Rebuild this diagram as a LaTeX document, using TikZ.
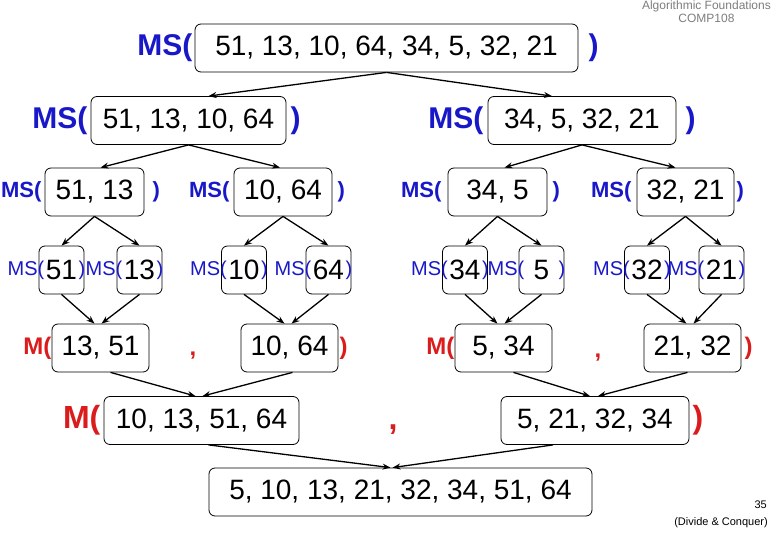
\documentclass[tikz,border=0pt]{standalone}
\usepackage{fontspec}
\setmainfont{Liberation Sans}
\usetikzlibrary{arrows.meta,positioning}
\definecolor{msBlue}{RGB}{24,24,200}
\definecolor{mRed}{RGB}{218,28,28}
\definecolor{hdGray}{RGB}{125,125,125}
\tikzset{
    numbox/.style={draw, rounded corners=6pt, line width=0.8pt, minimum height=48pt, inner sep=0pt,
        font=\fontsize{28}{30}\selectfont},
    tinybox/.style={numbox, minimum width=45pt},
    pairbox/.style={numbox, minimum width=97pt},
    msbig/.style={text=msBlue, inner sep=0pt, font=\bfseries\fontsize{30}{32}\selectfont},
    msmid/.style={text=msBlue, inner sep=0pt, font=\bfseries\fontsize{22}{24}\selectfont},
    mssmall/.style={text=msBlue, inner sep=0pt, font=\fontsize{20}{22}\selectfont},
    mmid/.style={text=mRed, inner sep=0pt, font=\bfseries\fontsize{24}{26}\selectfont},
    mbig/.style={text=mRed, inner sep=0pt, font=\bfseries\fontsize{32}{34}\selectfont},
    arr/.style={-{Stealth[length=8pt,width=6pt]}, line width=1.3pt}
}
\begin{document}
\begin{tikzpicture}[x=1pt,y=-1pt]
    \useasboundingbox (0,0) rectangle (780,540);
    \node[anchor=north east, align=center, inner sep=0pt, text=hdGray, font=\fontsize{12}{12.5}\selectfont]
        (hdr) at (771,1) {Algorithmic Foundations\\COMP108};

    \node[numbox, minimum width=383pt] (t) at (386.5,48) {51, 13, 10, 64, 34, 5, 32, 21};
    \node[msbig, anchor=east] (t-l) at ([xshift=-2pt]t.west) {MS(};
    \node[msbig, anchor=west] (t-r) at ([xshift=10pt]t.east) {)};

    \node[numbox, minimum width=195pt] (h1) at (188.5,120.5) {51, 13, 10, 64};
    \node[msbig, anchor=east] (h1-l) at ([xshift=-3pt]h1.west) {MS(};
    \node[msbig, anchor=west] (h1-r) at ([xshift=4pt]h1.east) {)};
    \node[numbox, minimum width=188pt] (h2) at (582,120.5) {34, 5, 32, 21};
    \node[msbig, anchor=east] (h2-l) at ([xshift=-4pt]h2.west) {MS(};
    \node[msbig, anchor=west] (h2-r) at ([xshift=9pt]h2.east) {)};

    \node[numbox, minimum width=99pt] (q1) at (94.5,192) {51, 13};
    \node[msmid, anchor=east] (q1-l) at ([xshift=-3pt]q1.west) {MS(};
    \node[msmid, anchor=west] (q1-r) at ([xshift=8pt]q1.east) {)};
    \node[numbox, minimum width=98pt] (q2) at (283,192) {10, 64};
    \node[msmid, anchor=east] (q2-l) at ([xshift=-4pt]q2.west) {MS(};
    \node[msmid, anchor=west] (q2-r) at ([xshift=5pt]q2.east) {)};
    \node[numbox, minimum width=99pt] (q3) at (497.5,192) {34, 5};
    \node[msmid, anchor=east] (q3-l) at ([xshift=-6pt]q3.west) {MS(};
    \node[msmid, anchor=west] (q3-r) at ([xshift=5pt]q3.east) {)};
    \node[numbox, minimum width=97pt] (q4) at (685.5,192) {32, 21};
    \node[msmid, anchor=east] (q4-l) at ([xshift=-5pt]q4.west) {MS(};
    \node[msmid, anchor=west] (q4-r) at ([xshift=2pt]q4.east) {)};

    \node[tinybox] (e1) at (61.5,270) {51};
    \node[tinybox] (e2) at (139.5,270) {13};
    \node[tinybox] (e3) at (244,270) {10};
    \node[tinybox] (e4) at (328.5,270) {64};
    \node[tinybox] (e5) at (465,270) {34};
    \node[tinybox] (e6) at (541.5,270) {5};
    \node[tinybox] (e7) at (647,270) {32};
    \node[tinybox] (e8) at (721.5,270) {21};
    \foreach \e in {e1,e2,e3,e4,e5,e6,e7,e8} {
        \node[mssmall, anchor=east] (\e-l) at ([xshift=6pt]\e.west) {MS(};
        \node[mssmall, anchor=west] (\e-r) at ([xshift=-6pt]\e.east) {)};
    }

    \node[pairbox] (m1) at (100.5,348) {13, 51};
    \node[mmid, anchor=east] (m1-l) at (m1.west) {M(};
    \node[pairbox] (m2) at (289.5,348) {10, 64};
    \node[mmid, anchor=west] (m2-r) at ([xshift=1pt]m2.east) {)};
    \node[mmid] (c1) at (193,356) {,};
    \node[pairbox] (m3) at (503.5,348) {5, 34};
    \node[mmid, anchor=east] (m3-l) at (m3.west) {M(};
    \node[pairbox] (m4) at (692.5,348) {21, 32};
    \node[mmid, anchor=west] (m4-r) at ([xshift=3pt]m4.east) {)};
    \node[mmid] (c2) at (598,358) {,};

    \node[numbox, minimum width=195pt] (mh1) at (201.5,420.5) {10, 13, 51, 64};
    \node[mbig, anchor=east] (mh1-l) at ([xshift=-3pt]mh1.west) {M(};
    \node[numbox, minimum width=188pt] (mh2) at (595,420.5) {5, 21, 32, 34};
    \node[mbig, anchor=west] (mh2-r) at ([xshift=3pt]mh2.east) {)};
    \node[mbig] (c3) at (393,430) {,};

    \node[numbox, minimum width=383pt] (res) at (400.5,492) {5, 10, 13, 21, 32, 34, 51, 64};

    \node[anchor=east, inner sep=0pt, font=\fontsize{11}{11}\selectfont] (pg) at (767,505) {35};
    \node[anchor=east, inner sep=0pt, font=\fontsize{11}{11}\selectfont] (topic) at (768,523) {(Divide \& Conquer)};

    \draw[arr] (t.south) -- ([xshift=20pt]h1.north);
    \draw[arr] (t.south) -- ([xshift=-30pt]h2.north);
    \draw[arr] (h1.south) -- ([xshift=6pt]q1.north);
    \draw[arr] (h1.south) -- ([xshift=-3pt]q2.north);
    \draw[arr] (h2.south) -- ([xshift=7pt]q3.north);
    \draw[arr] (h2.south) -- ([xshift=-10pt]q4.north);
    \draw[arr] (q1.south) -- (e1.north);
    \draw[arr] (q1.south) -- (e2.north);
    \draw[arr] (q2.south) -- (e3.north);
    \draw[arr] (q2.south) -- (e4.north);
    \draw[arr] (q3.south) -- (e5.north);
    \draw[arr] (q3.south) -- (e6.north);
    \draw[arr] (q4.south) -- (e7.north);
    \draw[arr] (q4.south) -- (e8.north);
    \draw[arr] (e1.south) -- ([xshift=-6pt]m1.north);
    \draw[arr] (e2.south) -- ([xshift=1pt]m1.north);
    \draw[arr] (e3.south) -- ([xshift=-5pt]m2.north);
    \draw[arr] (e4.south) -- ([xshift=2pt]m2.north);
    \draw[arr] (e5.south) -- ([xshift=-6pt]m3.north);
    \draw[arr] (e6.south) -- ([xshift=1pt]m3.north);
    \draw[arr] (e7.south) -- ([xshift=-6pt]m4.north);
    \draw[arr] (e8.south) -- ([xshift=1pt]m4.north);
    \draw[arr] ([xshift=10pt]m1.south) -- ([xshift=-6pt]mh1.north);
    \draw[arr] ([xshift=3pt]m2.south) -- ([xshift=1pt]mh1.north);
    \draw[arr] ([xshift=10pt]m3.south) -- ([xshift=-5pt]mh2.north);
    \draw[arr] ([xshift=-5pt]m4.south) -- ([xshift=3pt]mh2.north);
    \draw[arr] ([xshift=7pt]mh1.south) -- ([xshift=-10pt]res.north);
    \draw[arr] ([xshift=-42pt]mh2.south) -- ([xshift=-8pt]res.north);
\end{tikzpicture}
\end{document}
